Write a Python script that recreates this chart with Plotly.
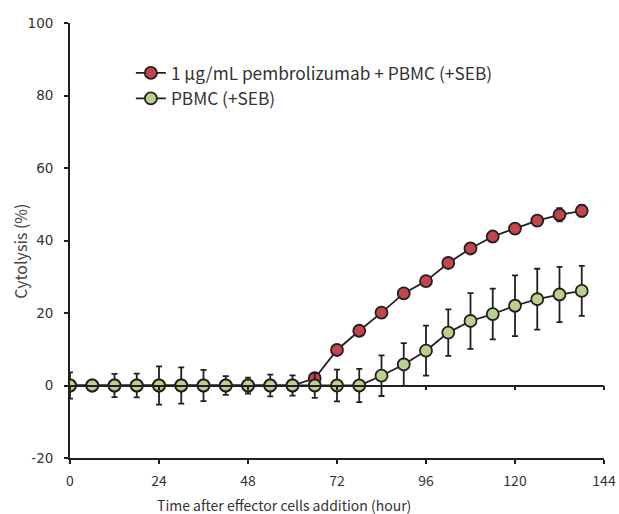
import plotly.graph_objects as go

time_h = [0, 6, 12, 18, 24, 30, 36, 42, 48, 54, 60, 66, 72, 78, 84, 90, 96, 102, 108, 114, 120, 126, 132, 138]
pembro = [0, 0, 0, 0, 0, 0, 0, 0, 0, 0, 0, 2.0, 9.8, 15.1, 20.1, 25.4, 28.8, 33.8, 37.8, 41.1, 43.3, 45.5, 47.1, 48.2]
pembro_err = [1.0, 1.0, 1.0, 1.0, 1.0, 1.0, 1.0, 1.0, 1.0, 1.0, 1.0, 1.0, 1.0, 1.0, 1.0, 1.0, 1.0, 1.0, 1.0, 1.0, 1.0, 1.2, 1.8, 1.6]
pbmc = [0, 0, 0, 0, 0, 0, 0, 0, 0, 0, 0, 0, 0, 0, 2.7, 5.8, 9.6, 14.6, 17.8, 19.7, 22.0, 23.8, 25.1, 26.1]
pbmc_err = [3.6, 1.3, 3.2, 3.3, 5.3, 5.0, 4.3, 2.6, 2.2, 3.0, 2.8, 3.4, 4.4, 4.6, 5.6, 5.9, 6.9, 6.4, 7.7, 7.0, 8.4, 8.4, 7.6, 6.9]
x_ticks = [0, 24, 48, 72, 96, 120, 144]
y_ticks = [-20, 0, 20, 40, 60, 80, 100]

DARK = "#231f20"
RED = "#c1464f"
GREEN = "#b9d08f"
SANS = "Noto Sans CJK JP"

fig = go.Figure()
fig.add_trace(go.Scatter(
    x=time_h, y=pembro, mode="lines+markers",
    name="1 µg/mL pembrolizumab + PBMC (+SEB)",
    line=dict(color=DARK, width=1.8),
    marker=dict(size=12, color=RED, line=dict(color=DARK, width=1.8)),
    error_y=dict(type="data", array=pembro_err, color=DARK, thickness=1.8, width=3),
))
fig.add_trace(go.Scatter(
    x=time_h, y=pbmc, mode="lines+markers", xaxis="x2",
    name="PBMC (+SEB)",
    line=dict(color=DARK, width=1.8),
    marker=dict(size=12, color=GREEN, line=dict(color=DARK, width=1.8)),
    error_y=dict(type="data", array=pbmc_err, color=DARK, thickness=1.8, width=3),
))

axis_common = dict(showgrid=False, zeroline=False, showline=True, linecolor=DARK, linewidth=1.8,
                   ticks="outside", ticklen=4, tickwidth=1.8, tickcolor=DARK, automargin=False,
                   ticklabeloverflow="allow")

fig.update_layout(
    width=619, height=514,
    margin=dict(l=70, r=15, t=23, b=56, autoexpand=False),
    paper_bgcolor="white", plot_bgcolor="white",
    showlegend=True,
    legend=dict(x=0.114, y=0.926, xanchor="left", yanchor="top", bgcolor="rgba(0,0,0,0)",
                font=dict(family=SANS, size=17.3, color="#333333"), tracegroupgap=0, itemwidth=30),
    xaxis=dict(range=[0, 144], tickvals=x_ticks, ticktext=[str(v) for v in x_ticks],
               tickfont=dict(family=SANS, size=14, color="#333333"), ticklabelstandoff=5,
               **axis_common),
    xaxis2=dict(range=[0, 144], overlaying="x", anchor="free", position=1 / 6, side="bottom",
                tickvals=x_ticks, showticklabels=False, **axis_common),
    yaxis=dict(range=[-20, 100], tickvals=y_ticks, ticktext=[str(v) for v in y_ticks],
               tickfont=dict(family="DejaVu Sans", size=13.5, color="#333333"), ticklabelstandoff=8,
               **axis_common),
    annotations=[
        dict(text="Time after effector cells addition (hour)", xref="paper", yref="paper",
             x=0.40, y=-0.108, xanchor="center", yanchor="middle", showarrow=False,
             font=dict(family=SANS, size=14, color="#333333")),
        dict(text="Cytolysis (%)", xref="paper", yref="paper", textangle=-90,
             x=-0.094, y=0.476, xanchor="center", yanchor="middle", showarrow=False,
             font=dict(family=SANS, size=16, color="#444444")),
    ],
)

fig.write_html("out.html", config={"displayModeBar": False},
               post_script="document.body.style.margin='0';")
